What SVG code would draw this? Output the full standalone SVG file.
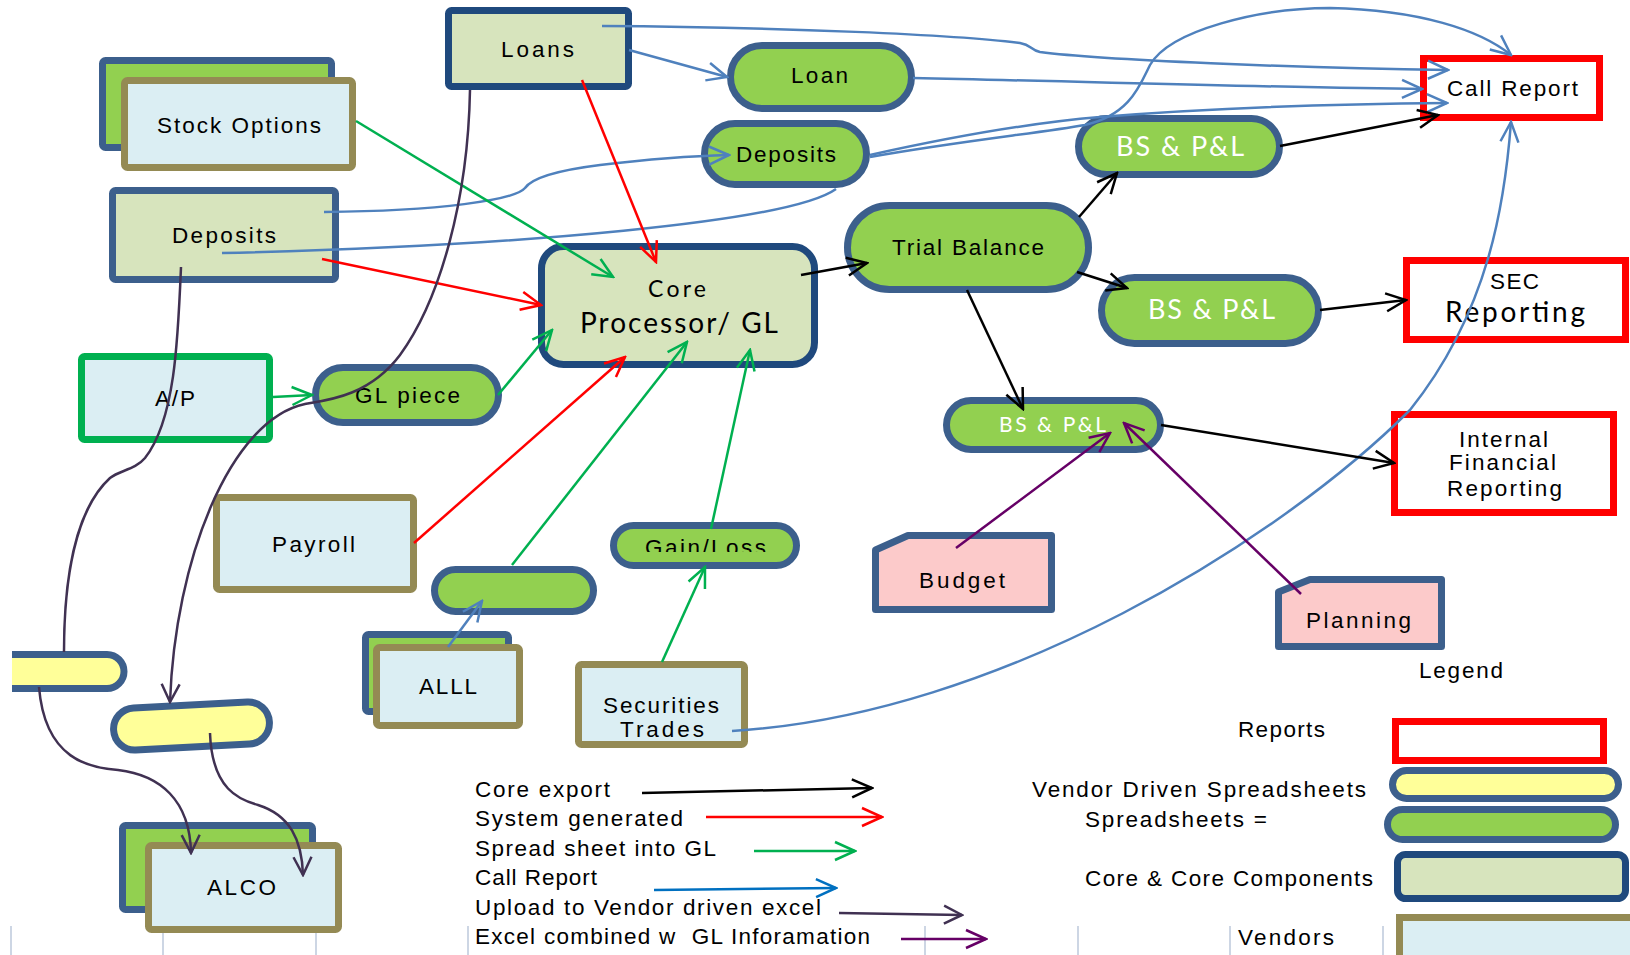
<svg xmlns="http://www.w3.org/2000/svg" width="1630" height="955" viewBox="0 0 1630 955">
<style>
.t{font-family:"Liberation Sans",Arial,sans-serif;font-size:22.5px;fill:#000}
.c{font-family:Lato,"Liberation Sans",sans-serif;fill:#000}
.w{font-family:Lato,"Liberation Sans",sans-serif;fill:#fff}
.pill{fill:#92d050;stroke:#3c5f8c;stroke-width:7}
.core{fill:#d7e4bd;stroke:#1f497d;stroke-width:7}
.core2{fill:#d7e4bd;stroke:#3c5f8c;stroke-width:7}
.vend{fill:#dbeef3;stroke:#948a54;stroke-width:7}
.back{fill:#92d050;stroke:#3c5f8c;stroke-width:7}
.rep{fill:#fff;stroke:#ff0000;stroke-width:7}
.yel{fill:#ffff99;stroke:#3c5f8c;stroke-width:7}
.pink{fill:#fccaca;stroke:#3c5f8c;stroke-width:7;stroke-linejoin:round}
.tick{stroke:#cdd6e4;stroke-width:2}
.cn{fill:none;stroke-width:2.5}
.bl{stroke:#4f81bd;marker-end:url(#aBlue)}
.bk{stroke:#000;marker-end:url(#aBlack)}
.rd{stroke:#ff0000;marker-end:url(#aRed)}
.gr{stroke:#00b050;marker-end:url(#aGreen)}
.pu{stroke:#660066;marker-end:url(#aPurple)}
.up{stroke:#403152;marker-end:url(#aUp)}
</style>
<defs>
<marker id="aBlue" viewBox="-22 -12 24 24" refX="0" refY="0" markerWidth="24" markerHeight="24" markerUnits="userSpaceOnUse" orient="auto"><path d="M-20,-9 L0,0 L-20,9" fill="none" stroke="#4f81bd" stroke-width="2.5"/></marker>
<marker id="aLBlue" viewBox="-22 -12 24 24" refX="0" refY="0" markerWidth="24" markerHeight="24" markerUnits="userSpaceOnUse" orient="auto"><path d="M-20,-9 L0,0 L-20,9" fill="none" stroke="#0070c0" stroke-width="2.5"/></marker>
<marker id="aBlack" viewBox="-22 -12 24 24" refX="0" refY="0" markerWidth="24" markerHeight="24" markerUnits="userSpaceOnUse" orient="auto"><path d="M-20,-9 L0,0 L-20,9" fill="none" stroke="#000" stroke-width="2.5"/></marker>
<marker id="aRed" viewBox="-22 -12 24 24" refX="0" refY="0" markerWidth="24" markerHeight="24" markerUnits="userSpaceOnUse" orient="auto"><path d="M-20,-9 L0,0 L-20,9" fill="none" stroke="#ff0000" stroke-width="2.5"/></marker>
<marker id="aGreen" viewBox="-22 -12 24 24" refX="0" refY="0" markerWidth="24" markerHeight="24" markerUnits="userSpaceOnUse" orient="auto"><path d="M-20,-9 L0,0 L-20,9" fill="none" stroke="#00b050" stroke-width="2.5"/></marker>
<marker id="aPurple" viewBox="-22 -12 24 24" refX="0" refY="0" markerWidth="24" markerHeight="24" markerUnits="userSpaceOnUse" orient="auto"><path d="M-20,-9 L0,0 L-20,9" fill="none" stroke="#660066" stroke-width="2.5"/></marker>
<marker id="aUp" viewBox="-22 -12 24 24" refX="0" refY="0" markerWidth="24" markerHeight="24" markerUnits="userSpaceOnUse" orient="auto"><path d="M-18,-9 L0,0 L-18,9" fill="none" stroke="#403152" stroke-width="2.5"/></marker>
<clipPath id="clipY1"><rect x="12" y="640" width="130" height="60"/></clipPath>
<clipPath id="clipGL"><rect x="600" y="520" width="220" height="32"/></clipPath>
</defs>

<g id="grid">
<line class="tick" x1="11" y1="926" x2="11" y2="955"/>
<line class="tick" x1="163" y1="926" x2="163" y2="955"/>
<line class="tick" x1="316" y1="926" x2="316" y2="955"/>
<line class="tick" x1="468" y1="926" x2="468" y2="955"/>
<line class="tick" x1="925" y1="926" x2="925" y2="955"/>
<line class="tick" x1="1078" y1="926" x2="1078" y2="955"/>
<line class="tick" x1="1230" y1="926" x2="1230" y2="955"/>
<line class="tick" x1="1383" y1="926" x2="1383" y2="955"/>
</g>

<g id="node-loans"><rect class="core" x="448.5" y="10.5" width="180" height="76" rx="3"/><text class="t" x="501" y="57" textLength="73">Loans</text></g>
<g id="node-stock-options"><rect class="back" x="102.5" y="60.5" width="229" height="87" rx="3"/><rect class="vend" x="124.5" y="80.5" width="228" height="87" rx="3"/><text class="t" x="157" y="133" textLength="164">Stock Options</text></g>
<g id="node-deposits-src"><rect class="core2" x="112.5" y="190.5" width="223" height="89" rx="3"/><text class="t" x="172" y="243" textLength="104">Deposits</text></g>
<g id="node-loan"><rect class="pill" x="730.5" y="45.5" width="181" height="63" rx="31.5"/><text class="t" x="791" y="83" textLength="57">Loan</text></g>
<g id="node-deposits"><rect class="pill" x="704.5" y="123.5" width="162" height="61" rx="30.5"/><text class="t" x="736" y="162" textLength="100">Deposits</text></g>
<g id="node-core"><rect class="core" x="541.5" y="246.5" width="273" height="118" rx="22"/><text class="c" font-size="23" x="648" y="297" textLength="58">Core</text><text class="c" font-size="28" x="580" y="333" textLength="198">Processor/ GL</text></g>
<g id="node-trial-balance"><rect class="pill" x="847.5" y="205.5" width="241" height="84" rx="42"/><text class="t" x="892" y="255" textLength="152">Trial Balance</text></g>
<g id="node-bspl-top"><rect class="pill" x="1078.5" y="118.5" width="201" height="56" rx="28"/><text class="w" font-size="27" x="1116" y="156" textLength="128">BS &amp; P&amp;L</text></g>
<g id="node-bspl-mid"><rect class="pill" x="1101.5" y="277.5" width="217" height="66" rx="33"/><text class="w" font-size="27" x="1148" y="319" textLength="127">BS &amp; P&amp;L</text></g>
<g id="node-bspl-low"><rect class="pill" x="946.5" y="400.5" width="214" height="49" rx="24.5"/><text class="w" font-size="21" x="999" y="432" textLength="107">BS &amp; P&amp;L</text></g>
<g id="node-call-report"><rect class="rep" x="1423.5" y="58.5" width="176" height="59"/><text class="t" x="1447" y="96" textLength="131">Call Report</text></g>
<g id="node-sec"><rect class="rep" x="1406.5" y="260.5" width="219" height="79"/><text class="t" x="1490" y="289" textLength="49">SEC</text><text class="c" font-size="28" x="1445" y="322" textLength="140">Reporting</text></g>
<g id="node-internal"><rect class="rep" x="1394.5" y="414.5" width="219" height="98"/><text class="t" font-size="21.5" x="1459" y="447" textLength="89">Internal</text><text class="t" font-size="21.5" x="1449" y="470" textLength="107">Financial</text><text class="t" font-size="21.5" x="1447" y="496" textLength="115">Reporting</text></g>
<g id="node-ap"><rect x="81.5" y="356.5" width="188" height="83" fill="#dbeef3" stroke="#00b050" stroke-width="7" rx="3"/><text class="t" x="155" y="406" textLength="40">A/P</text></g>
<g id="node-gl-piece"><rect class="pill" x="315.5" y="367.5" width="183" height="55" rx="27.5"/><text class="t" x="355" y="403" textLength="105">GL piece</text></g>
<g id="node-payroll"><rect class="vend" x="216.5" y="497.5" width="197" height="92" rx="3"/><text class="t" x="272" y="552" textLength="83">Payroll</text></g>
<g id="node-empty-pill"><rect class="pill" x="434.5" y="569.5" width="159" height="42" rx="21" stroke="#1f497d"/></g>
<g id="node-gain-loss"><rect class="pill" x="613.5" y="525.5" width="183" height="40" rx="20"/><text class="t" x="645" y="555" textLength="121" clip-path="url(#clipGL)">Gain/Loss</text></g>
<g id="node-alll"><rect class="back" x="365.5" y="634.5" width="143" height="77" rx="3"/><rect class="vend" x="376.5" y="647.5" width="143" height="78" rx="3"/><text class="t" x="419" y="694" textLength="58">ALLL</text></g>
<g id="node-securities"><rect class="vend" x="578.5" y="664.5" width="166" height="80" rx="3"/><text class="t" x="603" y="713" textLength="116">Securities</text><text class="t" x="620" y="737" textLength="84">Trades</text></g>
<g id="node-budget"><path class="pink" d="M875.5,550 L908,535.5 L1051.5,535.5 L1051.5,609.5 L875.5,609.5 Z"/><text class="t" x="919" y="588" textLength="86">Budget</text></g>
<g id="node-planning"><path class="pink" d="M1278.5,592 L1310,579.5 L1441.5,579.5 L1441.5,646.5 L1278.5,646.5 Z"/><text class="t" x="1306" y="628" textLength="105">Planning</text></g>
<g id="node-yellow1" clip-path="url(#clipY1)"><rect class="yel" x="-10" y="654.5" width="134" height="34" rx="17"/></g>
<g id="node-yellow2"><rect class="yel" x="113.5" y="705" width="156" height="42" rx="21" stroke="#1f497d" transform="rotate(-3 191.5 726)"/></g>
<g id="node-alco"><rect class="back" x="122.5" y="825.5" width="190" height="84" rx="3" stroke="#1f497d"/><rect class="vend" x="148.5" y="845.5" width="190" height="84" rx="3"/><text class="t" x="207" y="895" textLength="69">ALCO</text></g>

<g id="connectors">
<path class="cn bl" d="M602,26 C780,27 960,35 1020,43 C1032,45 1030,50 1040,52 C1100,60 1300,68 1448,70"/>
<path class="cn bl" d="M629,50 L727,77"/>
<path class="cn bl" d="M913,78 C1100,82 1300,88 1422,89"/>
<path class="cn bl" d="M324,212 C440,211 515,200 525,188 C532,178 560,170 600,165 C650,159 690,156 729,155"/>
<path class="cn" stroke="#4f81bd" d="M222,253 C520,246 790,222 836,189"/>
<path class="cn bl" d="M870,157 C960,141 1040,133 1085,125 C1130,115 1140,85 1150,65 C1170,30 1260,8 1330,8 C1420,10 1480,30 1511,55"/>
<path class="cn bl" d="M870,155 C960,135 1040,122 1100,117 C1200,109 1330,104 1447,103"/>
<path class="cn bl" d="M732,731 C1000,715 1280,540 1410,410 C1490,310 1505,200 1511,122"/>
<path class="cn bl" d="M448,647 L482,601"/>

<path class="cn gr" d="M356,121 L613,277"/>
<path class="cn gr" d="M273,397 L312,395"/>
<path class="cn gr" d="M498,395 L552,330"/>
<path class="cn gr" d="M512,565 L687,342"/>
<path class="cn gr" d="M711,529 L750,350"/>
<path class="cn gr" d="M662,662 L705,567"/>

<path class="cn rd" d="M582,80 L656,262"/>
<path class="cn rd" d="M322,259 L541,305"/>
<path class="cn rd" d="M414,543 L625,357"/>

<path class="cn bk" d="M801,275 L867,263"/>
<path class="cn bk" d="M1079,217 L1117,173"/>
<path class="cn bk" d="M1077,272 L1127,288"/>
<path class="cn bk" d="M1280,146 L1438,115"/>
<path class="cn bk" d="M1320,310 L1406,300"/>
<path class="cn bk" d="M967,290 L1023,409"/>
<path class="cn bk" d="M1161,425 L1394,463"/>

<path class="cn pu" d="M956,548 L1110,433"/>
<path class="cn pu" d="M1301,594 L1124,423"/>

<path class="cn up" d="M470,90 C468,200 440,300 400,355 C370,395 330,400 305,404 C230,420 175,560 170,702"/>
<path class="cn" stroke="#403152" d="M181,267 C178,340 175,420 145,458 C135,470 120,470 110,478 C75,510 64,580 64,652"/>
<path class="cn up" d="M39,687 C45,760 90,768 118,770 C160,775 190,800 191,853"/>
<path class="cn up" d="M210,733 C212,790 240,800 258,805 C290,815 302,840 303,875"/>
</g>

<g id="legend">
<text class="t" x="475" y="797" textLength="135">Core export</text>
<path class="cn bk" d="M642,793 L872,788"/>
<text class="t" x="475" y="826" textLength="208">System generated</text>
<path class="cn rd" d="M706,817 L882,817"/>
<text class="t" x="475" y="856" textLength="241">Spread sheet into GL</text>
<path class="cn gr" d="M754,851 L855,851"/>
<text class="t" x="475" y="885" textLength="122">Call Report</text>
<path class="cn" stroke="#0070c0" marker-end="url(#aLBlue)" d="M654,890 L836,888"/>
<text class="t" x="475" y="915" textLength="346">Upload to Vendor driven excel</text>
<path class="cn up" d="M839,913 L962,915"/>
<text class="t" x="475" y="944" textLength="395" xml:space="preserve">Excel combined w  GL Inforamation</text>
<path class="cn pu" d="M901,939 L986,939"/>

<text class="t" x="1419" y="678" textLength="84">Legend</text>
<text class="t" x="1238" y="737" textLength="87">Reports</text>
<rect class="rep" x="1395.5" y="721.5" width="208" height="39"/>
<text class="t" x="1032" y="797" textLength="334">Vendor Driven Spreadsheets</text>
<rect class="yel" x="1392.5" y="770.5" width="226" height="28" rx="14"/>
<text class="t" x="1085" y="827" textLength="182">Spreadsheets =</text>
<rect class="pill" x="1387.5" y="809.5" width="228" height="30" rx="15"/>
<text class="t" x="1085" y="886" textLength="288">Core &amp; Core Components</text>
<rect class="core" x="1397.5" y="854.5" width="228" height="44" rx="8"/>
<text class="t" x="1238" y="945" textLength="96">Vendors</text>
<rect class="vend" x="1399.5" y="917.5" width="235" height="45"/>
</g>
</svg>
